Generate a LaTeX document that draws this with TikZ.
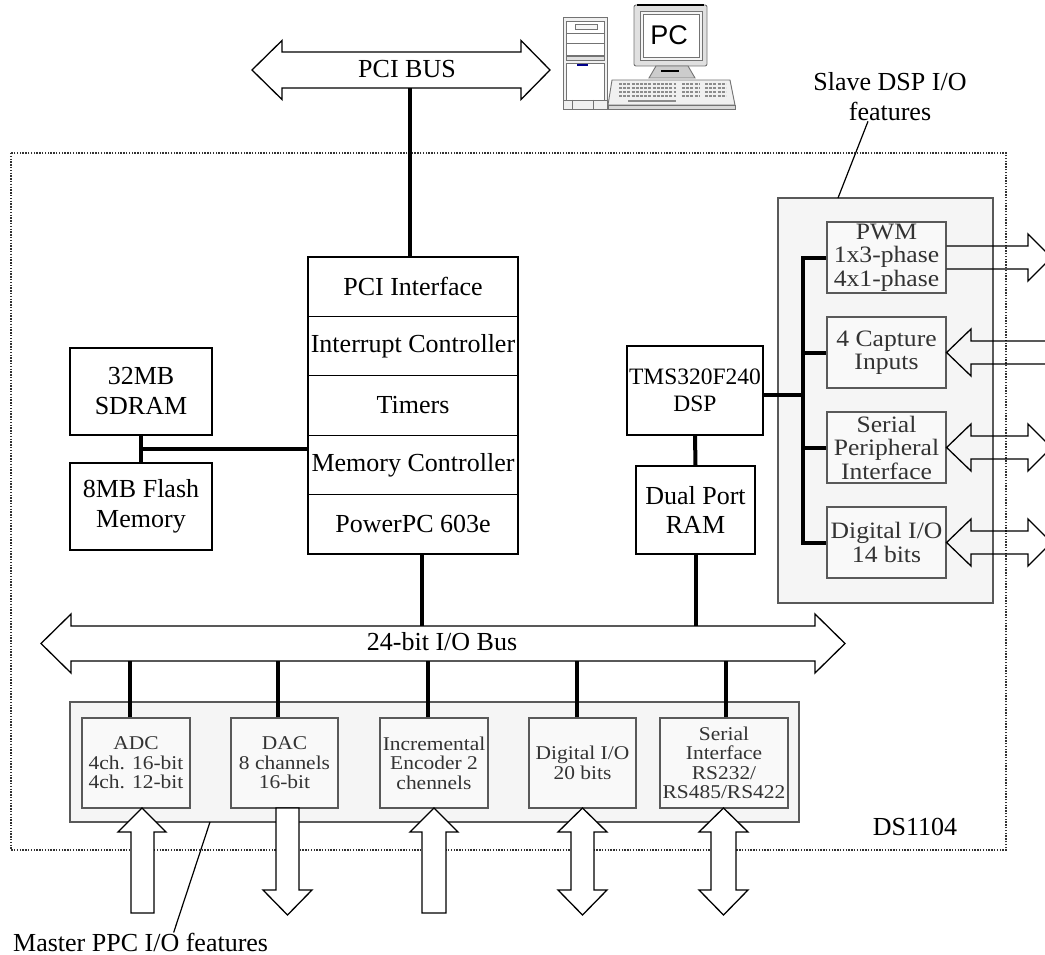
\documentclass[tikz,border=0pt]{standalone}
\usepackage{fontspec}
\setmainfont{Liberation Serif}
\newfontfamily\pcfont{Liberation Sans}
\usetikzlibrary{calc}
\newcommand\bigtxt{\fontsize{26}{30}\selectfont}
\newcommand\midtxt{\fontsize{23.5}{23.5}\selectfont\addfontfeature{FakeStretch=1.09}}
\newcommand\smalltxt{\fontsize{19.5}{19.5}\selectfont\addfontfeature{FakeStretch=1.1}}
\definecolor{panelgray}{gray}{0.96}
\definecolor{cellgray}{gray}{0.975}
\definecolor{edgegray}{gray}{0.35}
\definecolor{inkgray}{gray}{0.2}
\begin{document}
\begin{tikzpicture}[x=1pt,y=-1pt,
  unitbox/.style={draw=black, line width=1.3pt, fill=white, align=center, inner sep=0pt, font=\bigtxt},
  slavecell/.style={draw=edgegray, line width=1.2pt, fill=cellgray, align=center, inner sep=0pt,
    text=inkgray, font=\midtxt, minimum width=119pt, minimum height=71pt},
  mastercell/.style={draw=edgegray, line width=1.2pt, fill=cellgray, align=center, inner sep=0pt,
    text=inkgray, font=\smalltxt, minimum height=90pt},
  stackrow/.style={unitbox, minimum width=210pt, minimum height=59.4pt},
  panelbox/.style={draw=edgegray, line width=1.3pt, fill=panelgray},
  wire/.style={line width=4pt, black},
  fineline/.style={line width=1.2pt, black},
  blockarrow/.style={draw=black, line width=1.3pt, line join=miter},
  dsframe/.style={draw=black!80, line width=1.2pt, dash pattern=on 1.4pt off 1.4pt},
  plaintext/.style={font=\bigtxt, align=center, inner sep=0pt},
  pcpart/.style={draw=black!55, line width=0.9pt},
]
\useasboundingbox (0,0) rectangle (1045,955);

% board outline
\draw[dsframe] (11,153) rectangle (1006,850);

% ---------- PC icon ----------
% tower
\draw[pcpart, fill=black!6] (563,17) rectangle (607,109);
\draw[pcpart, fill=white] (566,21) rectangle (604,33);
\draw[pcpart, fill=black!4] (575,24) rectangle (597,29);
\draw[pcpart, fill=white] (566,33) rectangle (604,43);
\draw[pcpart, fill=white] (566,43) rectangle (604,55);
\draw[pcpart, fill=black!12] (566,56) rectangle (604,60);
\draw[pcpart, fill=white] (566,63) rectangle (604,100);
\fill[blue!55!black] (577,64.5) rectangle (588,66.5);
\draw[pcpart] (563,100) -- (607,100) (572,100) -- (572,109) (593,100) -- (593,109);
% monitor
\draw[pcpart, fill=black!12, rounded corners=2pt] (634,5) rectangle (707,66);
\draw[black, line width=1.6pt] (637,5) -- (704,5);
\draw[pcpart, fill=black!4] (640,11) rectangle (702,60);
\draw[pcpart, fill=white] (643,14) rectangle (699,57);
\node[font=\pcfont\fontsize{27}{27}\selectfont, inner sep=0pt] (pc) at (669,35) {PC};
\draw[pcpart, fill=black!20] (656,66) -- (688,66) -- (695,78) -- (649,78) -- cycle;
\fill[black] (661,70) rectangle (679,72.5);
% keyboard
\draw[pcpart, fill=black!6] (612,80) -- (730,80) -- (735,105) -- (608,105) -- cycle;
\draw[pcpart, fill=black!15] (608,105) rectangle (735,109);
\foreach \yy in {84,88,92,96} {
  \draw[black!45, line width=2.2pt, dash pattern=on 3pt off 1.2pt] (619,\yy) -- (676,\yy);
  \draw[black!45, line width=2.2pt, dash pattern=on 3pt off 1.2pt] (682,\yy) -- (700,\yy);
  \draw[black!45, line width=2.2pt, dash pattern=on 3pt off 1.2pt] (705,\yy) -- (726,\yy);
}
\draw[black!45, line width=2.2pt] (628,101) -- (676,101);

% ---------- PCI bus ----------
\draw[blockarrow, fill=white] (252,70) -- (282,40.5) -- (282,52) -- (521,52) -- (521,40.5) -- (550,70)
  -- (521,99.5) -- (521,88) -- (282,88) -- (282,99.5) -- cycle;
\node[plaintext] (pcibus) at (407,69) {PCI BUS};

% ---------- panels ----------
\draw[panelbox] (778,198) rectangle (993,603);
\coordinate (slavenw) at (778,198);
\draw[panelbox] (70,702) rectangle (799,822);
\coordinate (mastersw) at (70,822);

% ---------- 24-bit I/O bus ----------
\draw[blockarrow, fill=white] (41,643.5) -- (71,614) -- (71,626) -- (815,626) -- (815,614) -- (845,643.5)
  -- (815,673) -- (815,661) -- (71,661) -- (71,673) -- cycle;
\node[plaintext] (iobus) at (442,642) {24-bit I/O Bus};
\coordinate (iotop) at (0,626);
\coordinate (iobot) at (0,661);

% ---------- central processor stack ----------
\node[stackrow] (pci)  at (413,286.7) {PCI Interface};
\node[stackrow] (intc) at (413,346.1) {Interrupt Controller};
\node[stackrow] (tim)  at (413,405.5) {Timers};
\node[stackrow] (memc) at (413,464.9) {Memory Controller};
\node[stackrow] (ppc)  at (413,524.3) {PowerPC 603e};

% ---------- memories ----------
\node[unitbox, minimum width=142pt, minimum height=87pt] (sdram) at (141,391.5) {32MB\\SDRAM};
\node[unitbox, minimum width=142pt, minimum height=87pt] (flash) at (141,506.5) {8MB Flash\\Memory};

% ---------- DSP side ----------
\node[unitbox, minimum width=136pt, minimum height=89pt, font=\fontsize{23.5}{27}\selectfont] (tms) at (695,390.5) {TMS320F240\\DSP};
\node[unitbox, minimum width=119pt, minimum height=88pt, font=\fontsize{26}{29}\selectfont] (dpram) at (695.5,510) {Dual Port\\RAM};

\node[slavecell] (pwm)   at (886.5,257.5) {PWM\\1x3-phase\\4x1-phase};
\node[slavecell] (cap)   at (886.5,352.5) {4 Capture\\Inputs};
\node[slavecell] (spi)   at (886.5,447.5) {Serial\\Peripheral\\Interface};
\node[slavecell] (dio14) at (886.5,542.5) {Digital I/O\\14 bits};

% ---------- master I/O cells ----------
\node[mastercell, minimum width=108pt] (adc)   at (136,763)   {ADC\\4ch. 16-bit\\4ch. 12-bit};
\node[mastercell, minimum width=107pt] (dac)   at (284.5,763) {DAC\\8 channels\\16-bit};
\node[mastercell, minimum width=108pt] (enc)   at (434,763)   {Incremental\\Encoder 2\\chennels};
\node[mastercell, minimum width=107pt] (dio20) at (582.5,763) {Digital I/O\\20 bits};
\node[mastercell, minimum width=128pt] (ser)   at (724,763)   {Serial\\Interface\\RS232/\\RS485/RS422};

% ---------- bus connections ----------
\coordinate (pcitap) at (410,88);
\draw[wire] (pcitap) -- (pcitap |- pci.north);
\draw[wire] ([xshift=9]ppc.south) -- ([xshift=9]ppc.south |- iotop);
\draw[wire] (sdram.south) -- (flash.north);
\coordinate (memtap) at ($(sdram.south)!0.5!(flash.north)$);
\draw[wire] (memtap) -- (memtap -| memc.west);
\draw[wire] (tms.south) -- (dpram.north);
\draw[wire] (dpram.south) -- (dpram.south |- iotop);
\coordinate (dspbus) at (803,395);
\draw[wire] (tms.east |- dspbus) -- (dspbus);
\draw[wire, line cap=rect] (pwm.west -| dspbus) -- (dio14.west -| dspbus);
\foreach \c in {pwm,cap,spi,dio14} \draw[wire] (\c.west -| dspbus) -- (\c.west);
\draw[wire] ([xshift=-6]adc.north) -- ([xshift=-6]adc.north |- iobot);
\draw[wire] ([xshift=-6.5]dac.north) -- ([xshift=-6.5]dac.north |- iobot);
\draw[wire] ([xshift=-6]enc.north) -- ([xshift=-6]enc.north |- iobot);
\draw[wire] ([xshift=-5.5]dio20.north) -- ([xshift=-5.5]dio20.north |- iobot);
\draw[wire] ([xshift=2]ser.north) -- ([xshift=2]ser.north |- iobot);

% ---------- slave DSP I/O arrows ----------
\draw[blockarrow] (pwm.east |- 0,246) -- (1028,246) -- (1028,234) -- (1051.5,257.5) -- (1028,281) -- (1028,269) -- (pwm.east |- 0,269);
\draw[blockarrow] (1060,341) -- (971,341) -- (971,329) -- (cap.east) -- (971,376) -- (971,364) -- (1060,364);
\draw[blockarrow] (971,436) -- (1028,436) -- (1028,424) -- (1051.5,447.5) -- (1028,471) -- (1028,459)
  -- (971,459) -- (971,471) -- (spi.east) -- (971,424) -- cycle;
\draw[blockarrow] (971,531) -- (1028,531) -- (1028,519) -- (1051.5,542.5) -- (1028,566) -- (1028,554)
  -- (971,554) -- (971,566) -- (dio14.east) -- (971,519) -- cycle;

% ---------- master PPC I/O arrows ----------
\draw[blockarrow, fill=white] (142,808) -- (166,832) -- (154,832) -- (154,913) -- (131,913) -- (131,832) -- (118,832) -- cycle;
\draw[blockarrow, fill=white] (276,808) -- (299,808) -- (299,890) -- (312,890) -- (287.5,915) -- (263,890) -- (276,890) -- cycle;
\draw[blockarrow, fill=white] (434,808) -- (458,832) -- (446,832) -- (446,913) -- (422,913) -- (422,832) -- (410,832) -- cycle;
\draw[blockarrow, fill=white] (582.5,808) -- (607,832) -- (594,832) -- (594,890) -- (607,890) -- (582.5,915)
  -- (558,890) -- (571,890) -- (571,832) -- (558,832) -- cycle;
\draw[blockarrow, fill=white] (723.5,808) -- (748,832) -- (736,832) -- (736,890) -- (748,890) -- (723.5,915)
  -- (699,890) -- (711,890) -- (711,832) -- (699,832) -- cycle;

% ---------- captions ----------
\node[plaintext] (slavelbl) at (890,97) {Slave DSP I/O\\features};
\draw[fineline] ([xshift=-22]slavelbl.south) -- ([xshift=60]slavenw);
\node[plaintext, anchor=west] (masterlbl) at (13,942) {Master PPC I/O features};
\draw[fineline] ([xshift=140]mastersw) -- ([xshift=33]masterlbl.north);
\node[plaintext] (ds) at (915,827) {DS1104};
\end{tikzpicture}
\end{document}
